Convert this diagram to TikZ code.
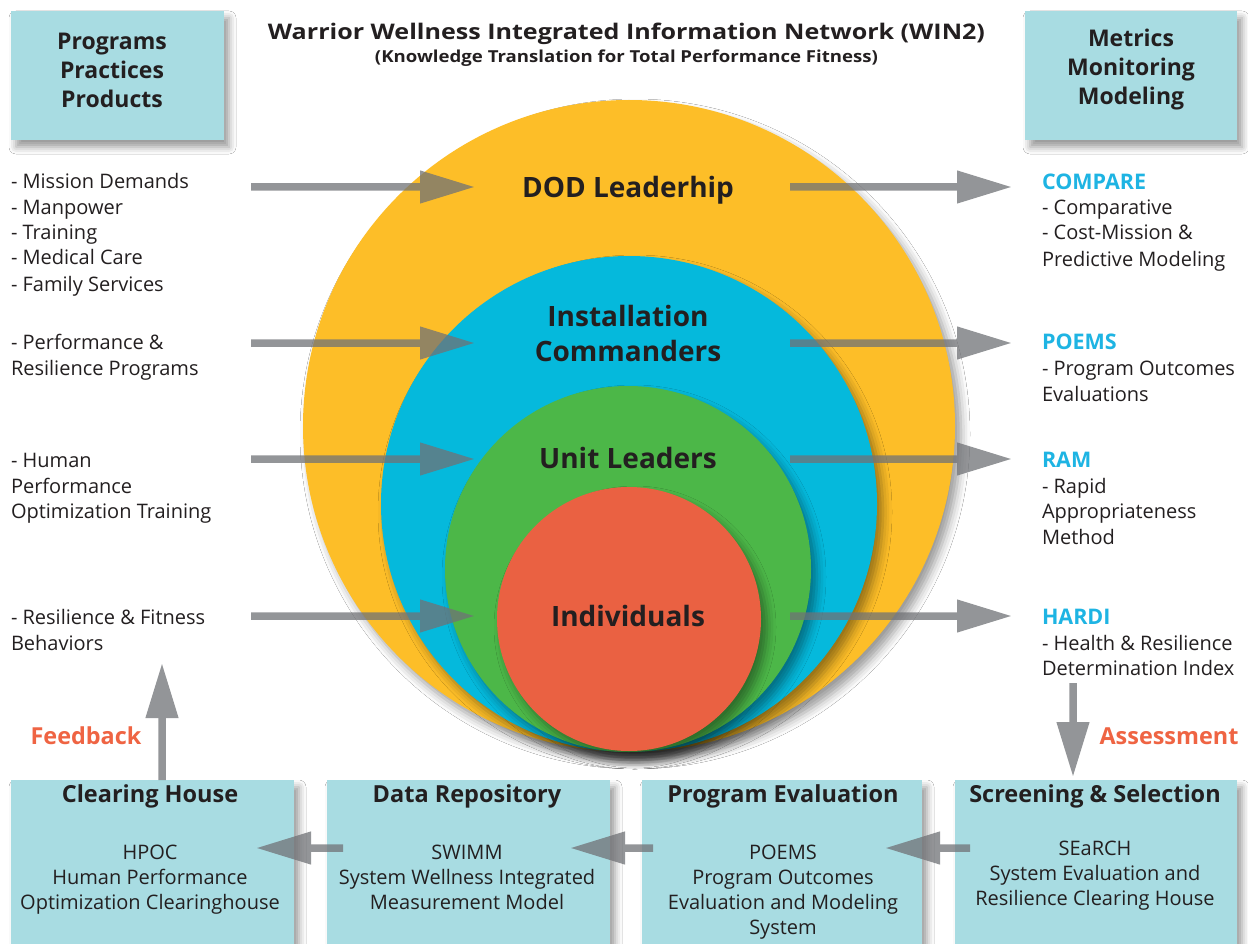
\documentclass[tikz,border=0pt]{standalone}
\usepackage{fontspec}
\setmainfont{Open Sans}
\usetikzlibrary{arrows.meta,shadows.blur}
\definecolor{boxc}{RGB}{168,220,226}
\definecolor{ylw}{RGB}{253,190,40}
\definecolor{blu}{RGB}{5,185,220}
\definecolor{grn}{RGB}{76,183,72}
\definecolor{rd}{RGB}{234,97,66}
\definecolor{cyt}{RGB}{30,180,227}
\definecolor{ort}{RGB}{239,100,67}
\definecolor{arrc}{RGB}{112,114,118}
\definecolor{txtc}{RGB}{35,31,32}
\begin{document}
\begin{tikzpicture}[x=1pt,y=-1pt,
 every node/.style={inner sep=0pt, outer sep=0pt, text=txtc},
 body/.style={font=\fontsize{20}{24}\selectfont},
 bodyb/.style={font=\bfseries\fontsize{21.5}{24}\selectfont},
 head/.style={font=\bfseries\fontsize{23.5}{27}\selectfont},
 circlbl/.style={font=\bfseries\fontsize{28}{34}\selectfont},
 panel/.style={fill=boxc, rectangle, blur shadow={shadow xshift=5pt, shadow yshift=-7pt, shadow blur radius=7pt, shadow opacity=40}},
 ring/.style={circle, blur shadow={shadow xshift=6pt, shadow yshift=-8pt, shadow blur radius=9pt, shadow opacity=40}},
 flow/.style={line width=7.5pt, draw=arrc, -{Triangle[length=55pt,width=31pt]}},
 lbl/.style={font=\bfseries\fontsize{23.4}{26}\selectfont, text=ort},
]
\useasboundingbox (0,0) rectangle (1248,944);
\fill[white] (0,0) rectangle (1248,944);

% circles
\node[ring, fill=ylw, minimum size=652pt] (dod) at (629,426) {};
\node[ring, fill=blu, minimum size=496pt] (inst) at (629,504) {};
\node[ring, fill=grn, minimum size=366pt] (unit) at (628,569) {};
\node[ring, fill=rd, minimum size=264pt] (indiv) at (629,619) {};

\node[circlbl] (dodl) at (628,190) {DOD Leaderhip};
\node[circlbl, align=center, font=\bfseries\fontsize{28}{35}\selectfont] (instl) at (628,333) {Installation\\Commanders};
\node[circlbl] (unitl) at (628,458) {Unit Leaders};
\node[circlbl] (indl) at (628,616) {Individuals};

% title
\node[font=\bfseries\fontsize{21.5}{24}\selectfont] (title) at (626.5,34) {\resizebox{717pt}{\height}{Warrior Wellness Integrated Information Network (WIN2)}};
\node[font=\bfseries\fontsize{16.5}{20}\selectfont] (subtitle) at (626.5,58) {\resizebox{503pt}{\height}{(Knowledge Translation for Total Performance Fitness)}};

% top panels
\node[panel, minimum width=213pt, minimum height=129pt] (ppp) at (117.5,75.5) {};
\node[align=center, font=\bfseries\fontsize{23}{29}\selectfont] (pppt) at (112,70) {Programs\\Practices\\Products};
\node[panel, minimum width=212pt, minimum height=129pt] (mmm) at (1131,75.5) {};
\node[align=center, font=\bfseries\fontsize{23}{29}\selectfont] (mmmt) at (1131,70) {Metrics\\Monitoring\\Modeling};

% left lists
\foreach \t/\y [count=\i] in {{- Mission Demands}/182,{- Manpower}/208,{- Training}/233,{- Medical Care}/258,{- Family Services}/284,
 {- Performance \&}/342,{Resilience Programs}/368,
 {- Human}/460,{Performance}/486,{Optimization Training}/511,
 {- Resilience \& Fitness}/617,{Behaviors}/643}
 \node[body, anchor=base west] (lt\i) at (11,\y+7) {\t};

% right lists
\foreach \t/\y [count=\i] in {{COMPARE}/182,{POEMS}/342,{RAM}/460,{HARDI}/617}
 \node[bodyb, anchor=base west, text=cyt] (rh\i) at (1042,\y+7.5) {\t};
\foreach \t/\y [count=\i] in {{- Comparative}/208,{- Cost-Mission \&}/233,{Predictive Modeling}/259,
 {- Program Outcomes}/368,{Evaluations}/394,
 {- Rapid}/486,{Appropriateness}/511,{Method}/537,
 {- Health \& Resilience}/643,{Determination Index}/668}
 \node[body, anchor=base west] (rt\i) at (1042,\y+7) {\t};

% bottom panels
\node[panel, minimum width=283pt, minimum height=180pt] (ch) at (152.5,870) {};
\node[panel, minimum width=283pt, minimum height=180pt] (dr) at (468.5,870) {};
\node[panel, minimum width=280pt, minimum height=180pt] (pe) at (782,870) {};
\node[panel, minimum width=282pt, minimum height=180pt] (ss) at (1096,870) {};

\node[head] (cht) at (150,796) {Clearing House};
\node[head] (drt) at (467,796) {Data Repository};
\node[head] (pet) at (783,796) {Program Evaluation};
\node[head] (sst) at (1095,796) {Screening \& Selection};

\foreach \t/\y [count=\i] in {HPOC/852,{Human Performance}/877,{Optimization Clearinghouse}/902}
 \node[body, anchor=base] (chx\i) at (150,\y+7) {\t};
\foreach \t/\y [count=\i] in {SWIMM/852,{System Wellness Integrated}/877,{Measurement Model}/902}
 \node[body, anchor=base] (drx\i) at (467,\y+7) {\t};
\foreach \t/\y [count=\i] in {POEMS/852,{Program Outcomes}/877,{Evaluation and Modeling}/902,System/927}
 \node[body, anchor=base] (pex\i) at (783,\y+7) {\t};
\foreach \t/\y [count=\i] in {SEaRCH/848,{System Evaluation and}/873,{Resilience Clearing House}/898}
 \node[body, anchor=base] (ssx\i) at (1095,\y+7) {\t};

\node[lbl] (fb) at (86,736) {Feedback};
\node[lbl] (as) at (1169,736) {Assessment};

% arrow endpoints
\foreach \y [count=\i] in {187,343,459,616}{
 \coordinate (ls\i) at (251,\y);
 \coordinate (le\i) at (475,\y);
 \coordinate (rs\i) at (790,\y);
 \coordinate (re\i) at (1012,\y);
}
\coordinate (fbtip) at (162,663);
\coordinate (astop) at (1073,683);
\coordinate (a1s) at (970,848);
\coordinate (a1e) at (885,848);
\coordinate (a2s) at (653,848);
\coordinate (a2e) at (570,848);
\coordinate (a3s) at (343,848);
\coordinate (a3e) at (256,848);

\begin{scope}[transparency group, opacity=0.75]
 \foreach \i in {1,...,4}{
  \draw[flow] (ls\i) -- (le\i);
  \draw[flow] (rs\i) -- (re\i);
 }
 \draw[flow] (ch.north -| fbtip) -- (fbtip);
 \draw[flow] (astop) -- ([yshift=3pt]astop |- ss.north);
 \draw[flow] (a1s) -- (a1e);
 \draw[flow] (a2s) -- (a2e);
 \draw[flow] (a3s) -- (a3e);
\end{scope}
\end{tikzpicture}
\end{document}
